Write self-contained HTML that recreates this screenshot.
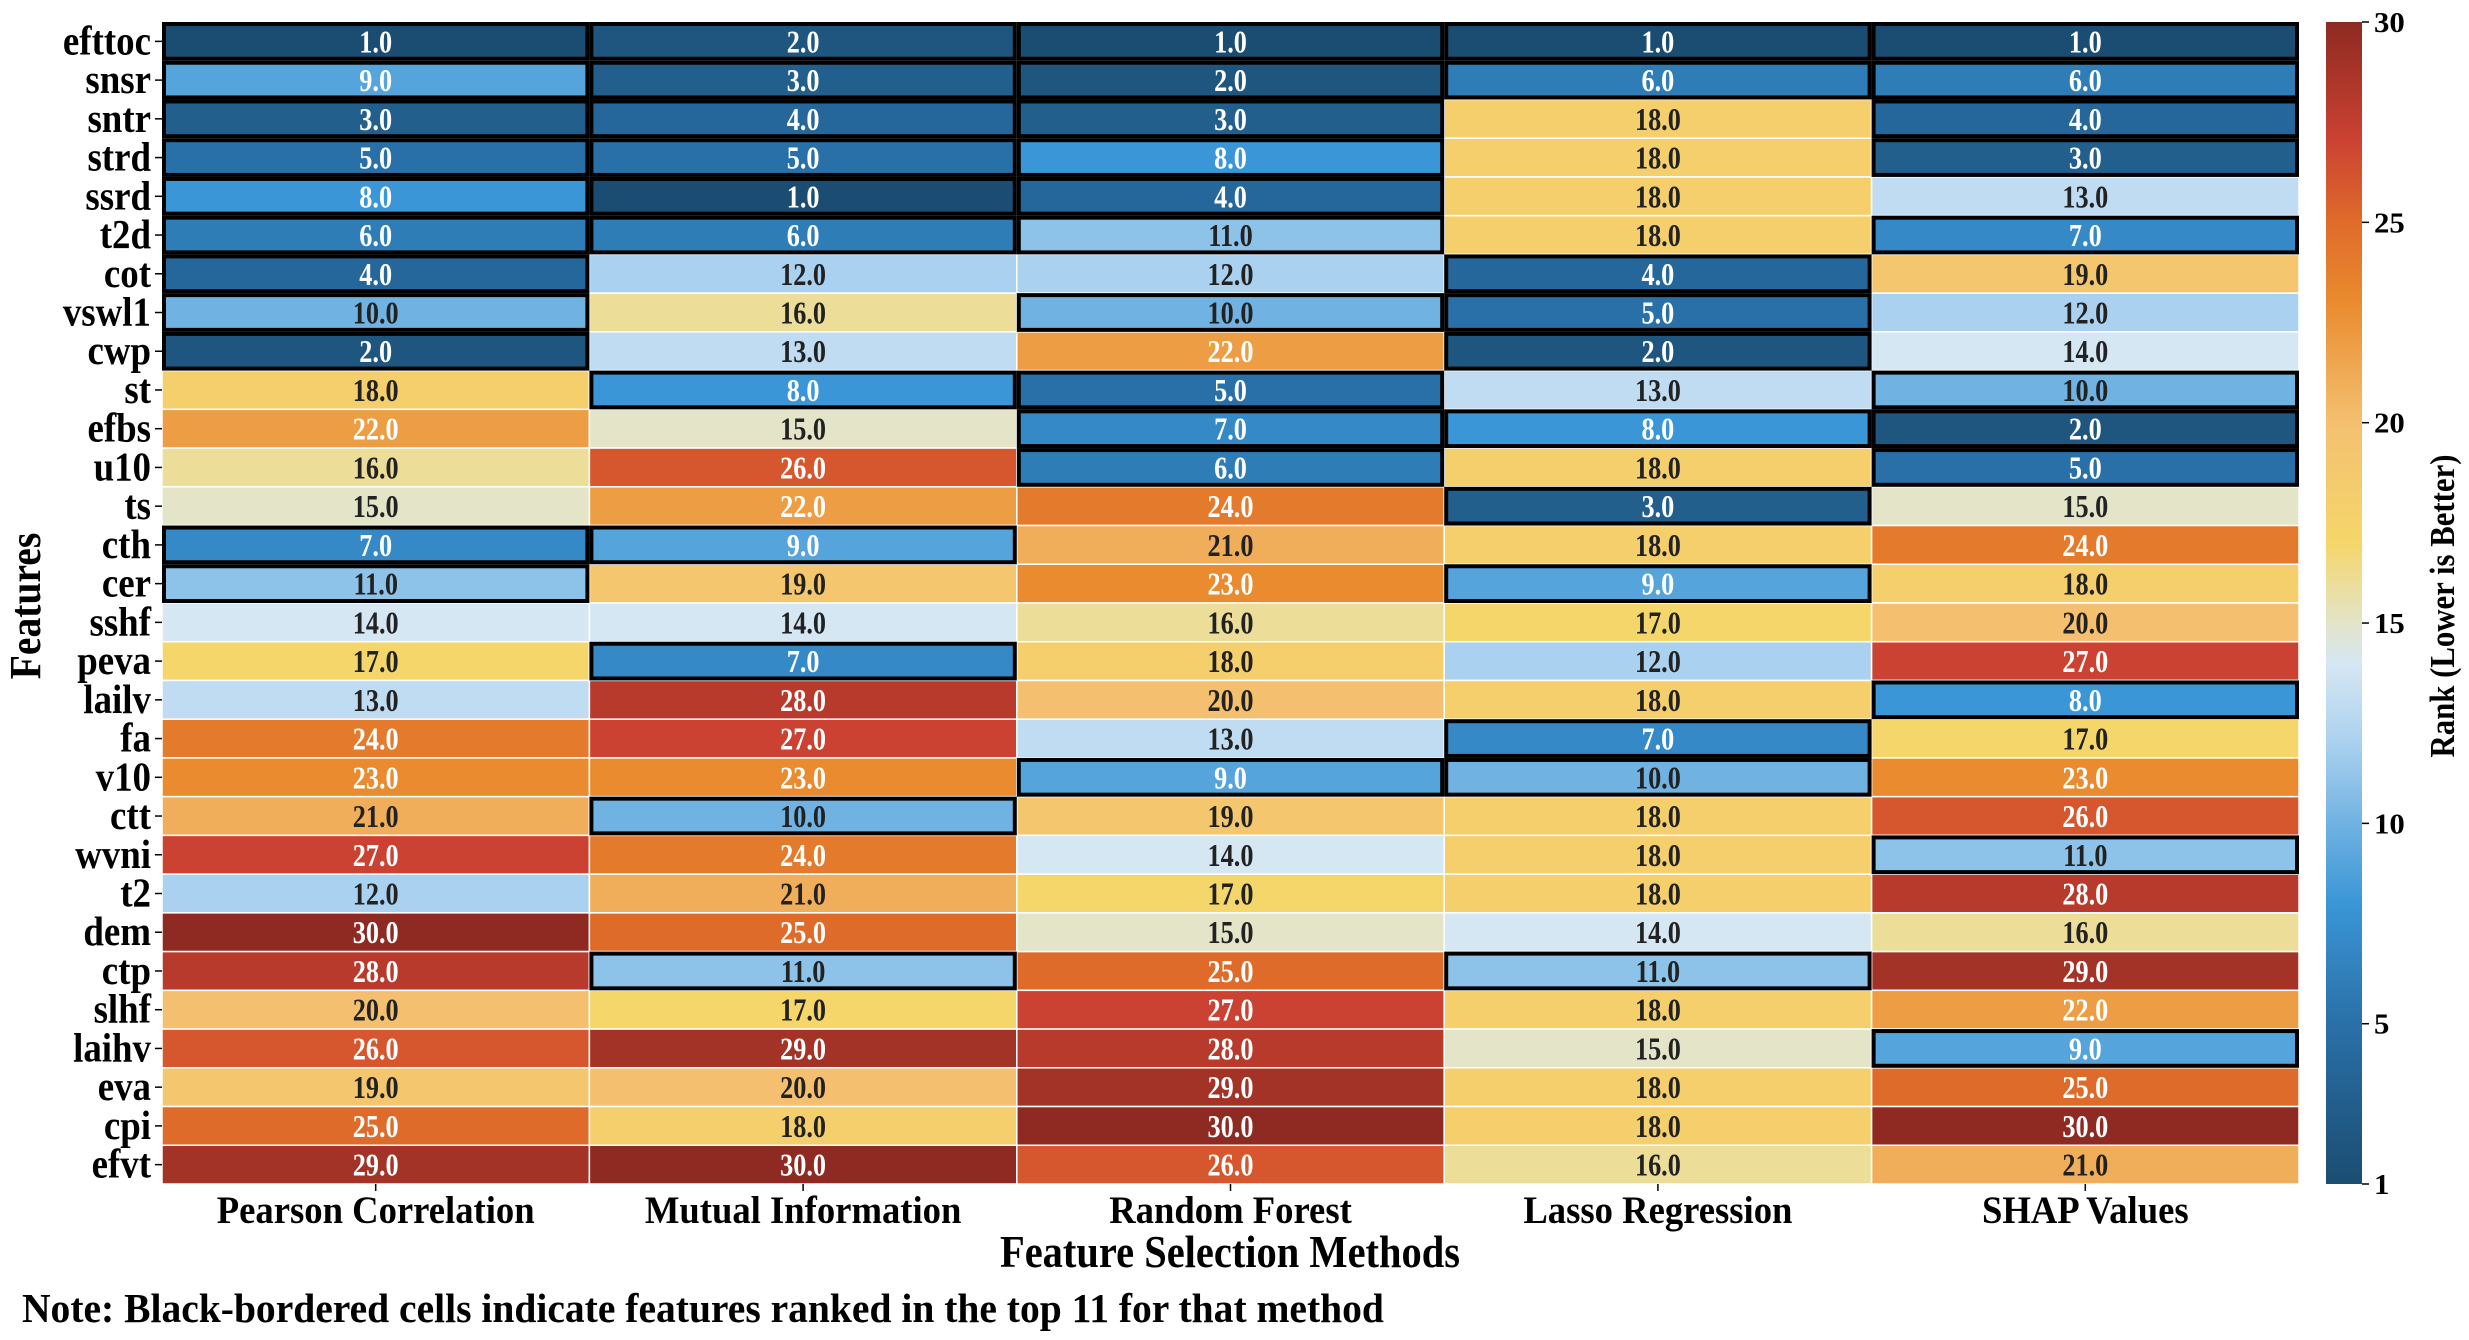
<!DOCTYPE html>
<html><head><meta charset="utf-8"><style>
html,body{margin:0;padding:0;background:#fff;}
svg{display:block;font-family:"Liberation Serif",serif;font-weight:bold;}
</style></head><body>
<svg id="chart" width="2469" height="1340" viewBox="0 0 2469 1340" xmlns="http://www.w3.org/2000/svg">
<defs>
<linearGradient id="cbgrad" x1="0" y1="1" x2="0" y2="0">
<stop offset="0" stop-color="#1b4d72"/>
<stop offset="0.138" stop-color="#2a70a8"/>
<stop offset="0.241" stop-color="#3a96d6"/>
<stop offset="0.31" stop-color="#70b2e2"/>
<stop offset="0.379" stop-color="#aad1ef"/>
<stop offset="0.448" stop-color="#d6e7f4"/>
<stop offset="0.483" stop-color="#e3e4c8"/>
<stop offset="0.552" stop-color="#f5d66a"/>
<stop offset="0.655" stop-color="#f4c070"/>
<stop offset="0.759" stop-color="#e98b2e"/>
<stop offset="0.828" stop-color="#df6b2a"/>
<stop offset="0.897" stop-color="#cc4232"/>
<stop offset="1" stop-color="#8e2a22"/>
</linearGradient>
</defs>
<g id="cells"></g>
<g id="borders"></g>
<g id="labels"></g>
</svg>
<script>
const features = ["efttoc","snsr","sntr","strd","ssrd","t2d","cot","vswl1","cwp","st","efbs","u10","ts","cth","cer","sshf","peva","lailv","fa","v10","ctt","wvni","t2","dem","ctp","slhf","laihv","eva","cpi","efvt"];
const methods = ["Pearson Correlation","Mutual Information","Random Forest","Lasso Regression","SHAP Values"];
const pearson = [1,9,3,5,8,6,4,10,2,18,22,16,15,7,11,14,17,13,24,23,21,27,12,30,28,20,26,19,25,29];
const mutual = [2,3,4,5,1,6,12,16,13,8,15,26,22,9,19,14,7,28,27,23,10,24,21,25,11,17,29,20,18,30];
const forest = [1,2,3,8,4,11,12,10,22,5,7,6,24,21,23,16,18,20,13,9,19,14,17,15,25,27,28,29,30,26];
const lasso = [1,6,18,18,18,18,4,5,2,13,8,18,3,18,9,17,12,18,7,10,18,18,18,14,11,18,15,18,18,16];
const shap = [1,6,4,3,13,7,19,12,14,10,2,5,15,24,18,20,27,8,17,23,26,11,28,16,29,22,9,25,30,21];
const cbTicks = [1,5,10,15,20,25,30];
const topN = 11;

const series = [pearson, mutual, forest, lasso, shap];
const L=162, R=2299, T=22, B=1184;
const cw=(R-L)/methods.length, rh=(B-T)/features.length;
const xPos = i => L + i*cw;
const yPos = j => T + j*rh;
const stops=[[1,[27,77,114]],[5,[42,112,168]],[8,[58,150,214]],[10,[112,178,226]],[12,[170,209,239]],[14,[214,231,244]],[15,[227,228,200]],[17,[245,214,106]],[20,[244,192,112]],[23,[233,139,46]],[25,[223,107,42]],[27,[204,66,50]],[30,[142,42,34]]];
function color(v){
  for(let k=0;k<stops.length-1;k++){
    const a=stops[k],b=stops[k+1];
    if(v<=b[0]){const t=(v-a[0])/(b[0]-a[0]);
      return 'rgb('+a[1].map((c,i)=>Math.round(c+(b[1][i]-c)*t)).join(',')+')';}
  }
  return 'rgb(142,42,34)';
}
const NS="http://www.w3.org/2000/svg";
function mk(tag,attrs,parent){const e=document.createElementNS(NS,tag);for(const k in attrs)e.setAttribute(k,attrs[k]);parent.appendChild(e);return e;}
function txt(x,y,str,size,sx,anchor,fill,parent){
  const t=mk('text',{transform:'translate('+x+','+y+') scale('+sx+',1)','text-anchor':anchor,'font-size':size,fill:fill},parent);
  t.textContent=str;return t;
}
const gC=document.getElementById('cells'),gB=document.getElementById('borders'),gL=document.getElementById('labels');
series.forEach((vals,i)=>{
  vals.forEach((v,j)=>{
    const r=mk('rect',{x:xPos(i),y:yPos(j),width:cw,height:rh,fill:color(v),stroke:'#fff','stroke-width':1.5},gC);
    
    
    const t=txt(xPos(i)+cw/2,yPos(j)+rh/2+11,v.toFixed(1),32,0.82,'middle',(v<=9||v>=22)?'#fff':'#222',gC);
    
    
    if(v<=topN){
      const b=mk('rect',{x:xPos(i)+2,y:yPos(j)+2,width:cw-4,height:rh-4,fill:'none',stroke:'#000','stroke-width':4},gB);
      
      
    }
  });
});
features.forEach((f,j)=>{
  const t=txt(151,yPos(j)+rh/2+13,f,41,0.9,'end','#000',gL);
  
  
  mk('line',{x1:155,x2:162,y1:yPos(j)+rh/2,y2:yPos(j)+rh/2,stroke:'#000','stroke-width':1.5},gL);
});
methods.forEach((m,i)=>{
  mk('line',{x1:xPos(i)+cw/2,x2:xPos(i)+cw/2,y1:B,y2:B+7,stroke:'#000','stroke-width':1.5},gL);
  const t=txt(xPos(i)+cw/2,1223,m,39,0.94,'middle','#000',gL);
  
  
});
// colorbar
const cbX=2326,cbW=36;
const cb=mk('rect',{x:cbX,y:T,width:cbW,height:B-T,fill:'url(#cbgrad)'},gL);


cbTicks.forEach(v=>{
  const y=B-(v-1)/29*(B-T);
  mk('line',{x1:cbX+cbW,x2:cbX+cbW+7,y1:y,y2:y,stroke:'#000','stroke-width':1.5},gL);
  const t=txt(cbX+cbW+12,y+10,String(v),28,1.1,'start','#000',gL);
  
  
});
</script>
<svg style="position:absolute;left:0;top:0" width="2469" height="1340">
<text transform="translate(2454,606) rotate(-90) scale(0.88,1)" text-anchor="middle" font-size="35" font-family="Liberation Serif, serif" font-weight="bold">Rank (Lower is Better)</text>
<text transform="translate(40,606) rotate(-90) scale(0.9,1)" text-anchor="middle" font-size="44" font-family="Liberation Serif, serif" font-weight="bold">Features</text>
<text transform="translate(1230,1267) scale(0.88,1)" text-anchor="middle" font-size="46" font-family="Liberation Serif, serif" font-weight="bold">Feature Selection Methods</text>
<text transform="translate(22,1322) scale(0.965,1)" font-size="41" font-family="Liberation Serif, serif" font-weight="bold">Note: Black-bordered cells indicate features ranked in the top 11 for that method</text>
</svg>
</body></html>
